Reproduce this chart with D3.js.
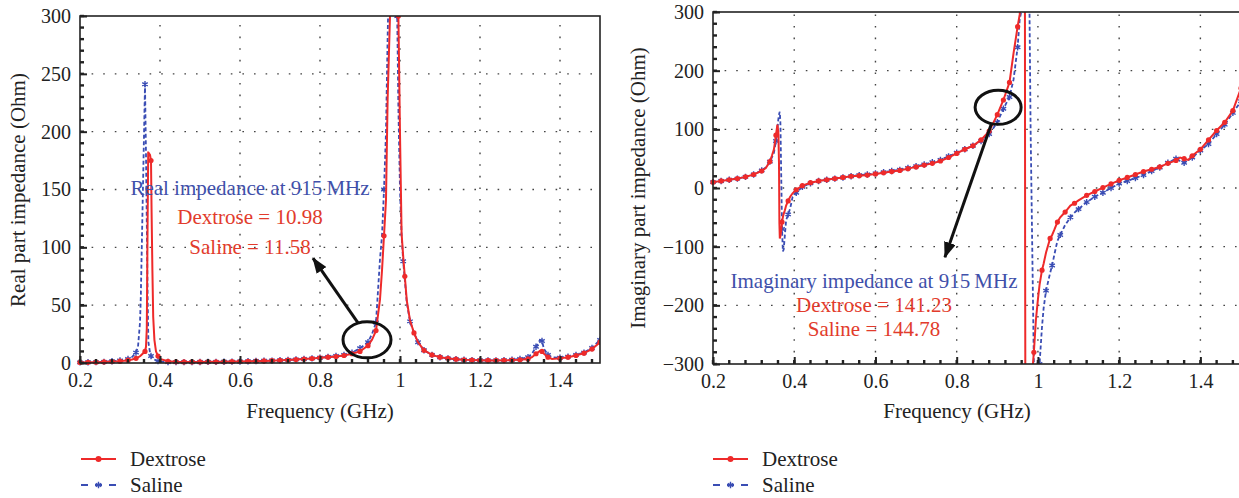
<!DOCTYPE html>
<html>
<head>
<meta charset="utf-8">
<script src="https://cdn.jsdelivr.net/npm/d3@7"></script>
<style>
body { margin: 0; background: #fff; }
svg { display: block; font-family: "Liberation Serif", "Times New Roman", serif; }
</style>
</head>
<body>
<svg id="chart" width="1239" height="498"></svg>
<script>
// values
var real_freq = [0.20, 0.22, 0.24, 0.26, 0.28, 0.30, 0.32, 0.33, 0.34, 0.345, 0.35, 0.352,
    0.3625, 0.365, 0.367, 0.369, 0.3705, 0.371, 0.375, 0.3775, 0.379, 0.381, 0.383, 0.386, 0.39, 0.395, 0.40, 0.42,
    0.44, 0.46, 0.48, 0.50, 0.52, 0.54, 0.56, 0.58, 0.60, 0.62, 0.64, 0.66, 0.68, 0.70, 0.72, 0.74, 0.76, 0.78, 0.80, 0.82, 0.84, 0.86, 0.88, 0.90,
    0.92, 0.93, 0.94, 0.95, 0.955, 0.96, 0.965, 0.969, 0.975, 0.98, 0.985, 0.99, 0.993, 0.996,
    1.0, 1.004, 1.008, 1.012, 1.017, 1.025, 1.035, 1.045, 1.06, 1.08,
    1.10, 1.12, 1.14, 1.16, 1.18, 1.20, 1.22, 1.24, 1.26, 1.28, 1.30,
    1.32, 1.33, 1.34, 1.35, 1.355, 1.36, 1.37, 1.38,
    1.40, 1.42, 1.44, 1.46, 1.48, 1.50];
var real_dextrose = [0.5, 0.6, 0.7, 0.9, 1.2, 1.6, 2.4, 3.0, 4.0, 4.8, 5.8, 6.5,
    10, 14, 30, 120, 182, 182, 180, 175, 130, 80, 40, 20, 10, 6, 3.5, 1.5,
    1.0, 0.9, 0.9, 0.9, 1.0, 1.0, 1.1, 1.2, 1.3, 1.5, 1.6, 1.8, 2.0, 2.3, 2.6, 3.0, 3.4, 3.9, 4.5, 5.0, 5.6, 6.5, 8.0, 10.0,
    15, 20, 28, 55, 80, 110, 141, 227, 300, 380, 420, 400, 350, 300,
    198, 112, 92, 75, 54, 37, 26, 18, 11, 7,
    5, 4, 3.3, 2.8, 2.5, 2.3, 2.2, 2.2, 2.3, 2.5, 2.8,
    3.5, 5, 8, 10.5, 10, 8, 5, 3.5,
    4, 5, 6.5, 8.5, 12, 18];
var real_saline = [0.5, 0.6, 0.8, 1.0, 1.5, 2.2, 3.5, 5.2, 9, 14, 35, 57,
    241, 180, 120, 60, 28, 18, 9, 6, 5, 4, 3.5, 3, 2.2, 1.6, 1.2, 0.9,
    0.8, 0.8, 0.8, 0.9, 1.0, 1.0, 1.1, 1.2, 1.3, 1.5, 1.7, 1.9, 2.1, 2.4, 2.7, 3.1, 3.5, 4.0, 4.6, 5.3, 6.0, 7.0, 9.0, 12.7,
    18, 25, 35, 90, 110, 150, 200, 280, 380, 450, 450, 330, 300, 220,
    150, 110, 88, 72, 52, 36, 26, 18, 11, 7,
    5, 4, 3.3, 2.8, 2.5, 2.4, 2.3, 2.3, 2.5, 2.8, 3.5,
    5, 8, 14, 20, 19, 12, 7, 5,
    4.5, 5.5, 7, 9, 13, 20];

var imag_freq = [0.20, 0.22, 0.24, 0.26, 0.28, 0.30, 0.32, 0.33, 0.34, 0.345, 0.35,
    0.355, 0.3585, 0.361, 0.3625, 0.3635, 0.3645, 0.366, 0.368, 0.370, 0.372, 0.374, 0.377, 0.38, 0.385, 0.39, 0.396, 0.405, 0.42,
    0.44, 0.46, 0.48, 0.50, 0.52, 0.54, 0.56, 0.58, 0.60, 0.62, 0.64, 0.66, 0.68, 0.70, 0.72, 0.74, 0.76, 0.78, 0.80, 0.82, 0.84, 0.86, 0.88, 0.90,
    0.915, 0.93, 0.94, 0.95, 0.955, 0.96, 0.965, 0.968, 0.9685, 0.969, 0.975, 0.979, 0.982, 0.986, 0.99,
    0.995, 1.0, 1.004, 1.01, 1.014, 1.02, 1.03, 1.035, 1.04, 1.048, 1.055, 1.067, 1.08, 1.09, 1.10,
    1.12, 1.14, 1.16, 1.18, 1.20, 1.22, 1.24, 1.26, 1.28, 1.30, 1.32, 1.34,
    1.35, 1.36, 1.37, 1.38,
    1.40, 1.42, 1.44, 1.46, 1.48, 1.50];
var imag_dextrose = [10, 12, 14, 16, 19, 23, 29, 34, 45, 55, 66,
    90, 108, 95, 40, -60, -86, -82, -70, -58, -50, -44, -38, -30, -22, -15, -9, -3, 4,
    9, 12, 14, 16, 18, 20, 21, 22, 24, 26, 28, 30, 33, 36, 39, 42, 46, 52, 59, 66, 72, 82, 97, 125,
    150, 180, 230, 275, 295, 330, 345, 320, -110, -330, -360, -345, -330, -315, -280,
    -225, -190, -165, -140, -129, -110, -86, -80, -72, -58, -50, -41, -30, -26, -21,
    -12.5, -6, 0.7, 7, 13, 18, 23, 28, 32, 36, 42, 47,
    52, 50, 48, 55,
    66, 82, 98, 112, 132, 170];
var imag_saline = [10, 12, 14, 16, 19, 23, 30, 35, 45, 52, 60,
    80, 100, 118, 125, 128, 130, 110, 20, -70, -108, -105, -80, -55, -45, -35, -15, -8, 2,
    8, 12, 14, 16, 18, 20, 22, 23, 25, 27, 29, 31, 34, 37, 40, 44, 48, 54, 60, 66, 72, 80, 92, 112,
    135, 155, 185, 240, 286, 305, 330, 345, 350, 350, 360, 320, 100, -100, -300,
    -360, -340, -300, -237, -205, -175, -145, -132, -115, -90, -80, -63, -50, -42, -36,
    -24, -15, -8, 0, 7.5, 12, 17, 22, 29, 35, 43, 50,
    46, 43, 47, 52,
    64, 75, 92, 108, 128, 148];

var freq_ticks = [0.2, 0.4, 0.6, 0.8, 1, 1.2, 1.4];
var real_ticks = [0, 50, 100, 150, 200, 250, 300];
var imag_ticks = [-300, -200, -100, 0, 100, 200, 300];
var series_names = ["Dextrose", "Saline"];
var real_notes = ["Real impedance at 915\u2009MHz", "Dextrose = 10.98", "Saline = 11.58"];
var imag_notes = ["Imaginary impedance at 915\u2009MHz", "Dextrose = 141.23", "Saline = 144.78"];

var red = "#ee2a2a";
var blue = "#3a4db4";
var note_blue = "#3f50aa";
var note_red = "#e23b2c";
var ink = "#222";

var svg = d3.select("#chart");

svg.append("defs").append("marker").
    attr("id", "arrowhead").
    attr("markerUnits", "userSpaceOnUse").
    attr("viewBox", "0 0 16 12").
    attr("refX", 15).
    attr("refY", 6).
    attr("markerWidth", 16).
    attr("markerHeight", 12).
    attr("orient", "auto").
    append("path").
    attr("d", "M 0 0 L 16 6 L 0 12 z").
    attr("fill", "#111");

var panels = [
    {
        id: "real", left: 80, right: 600, top: 16, bottom: 363, clip_extra: 4,
        y_domain: [0, 300], y_ticks: real_ticks, y_minor: 10,
        freq: real_freq, dextrose: real_dextrose, saline: real_saline,
        y_label: "Real part impedance (Ohm)", y_label_x: 25, y_label_y: 190,
        x_label_x: 320,
        notes: real_notes, note_x: 250, note_y: [195, 224, 254],
        ellipse: [0.9175, 20, 24, 18], arrow: [0.895, 34.6, 0.7825, 90.7],
        legend_x: 81
    },
    {
        id: "imag", left: 713, right: 1241, top: 12, bottom: 364, clip_extra: 0,
        y_domain: [-300, 300], y_ticks: imag_ticks, y_minor: 20,
        freq: imag_freq, dextrose: imag_dextrose, saline: imag_saline,
        y_label: "Imaginary part impedance (Ohm)", y_label_x: 645, y_label_y: 188,
        x_label_x: 957,
        notes: imag_notes, note_x: 874, note_y: [288, 312, 336],
        ellipse: [0.902, 137.5, 23, 17], arrow: [0.885, 108.6, 0.771, -118],
        legend_x: 713
    }
];

function format_tick(d)
{
    return d < 0 ? "\u2212" + (-d) : String(d);
}

// markers on a subset of the points: not too close in x, none on near-vertical jumps
function marker_points(freq, values, x, y, domain)
{
    var points = [];
    var last_x = -1e9;
    for (var i = 0; i < freq.length; i++)
    {
        var v = values[i];
        if (v < domain[0] || v > domain[1])
        {
            continue;
        }
        if (i > 0 && Math.abs(y(values[i - 1]) - y(v)) > 60 && Math.abs(x(freq[i - 1]) - x(freq[i])) < 3)
        {
            continue;
        }
        var px = x(freq[i]);
        if (px - last_x < 6)
        {
            continue;
        }
        points.push([px, y(v)]);
        last_x = px;
    }
    return points;
}

function draw_panel(p)
{
    var x = d3.scaleLinear().domain([0.2, 1.5]).range([p.left, p.right]);
    var y = d3.scaleLinear().domain(p.y_domain).range([p.bottom, p.top]);
    var g = svg.append("g").attr("id", p.id);

    g.append("clipPath").attr("id", "clip-" + p.id).
        append("rect").
        attr("x", p.left - 4).
        attr("y", p.top).
        attr("width", p.right - p.left + 4).
        attr("height", p.bottom - p.top + p.clip_extra);

    // dotted grid
    var grid = g.append("g").attr("stroke", "#444").attr("stroke-width", 1.4).attr("stroke-dasharray", "1.6,10");
    grid.selectAll(".vgrid").data(freq_ticks.slice(1)).enter().append("line").
        attr("x1", function(d) { return x(d); }).attr("x2", function(d) { return x(d); }).
        attr("y1", p.bottom).attr("y2", p.top);
    grid.selectAll(".hgrid").data(p.y_ticks.slice(1, -1)).enter().append("line").
        attr("x1", p.left).attr("x2", p.right).
        attr("y1", function(d) { return y(d); }).attr("y2", function(d) { return y(d); });

    var line = d3.line().
        x(function(d) { return x(d[0]); }).
        y(function(d) { return y(d[1]); });

    var plot = g.append("g").attr("clip-path", "url(#clip-" + p.id + ")");

    var saline_pts = p.freq.map(function(f, i) { return [f, p.saline[i]]; });
    var dextrose_pts = p.freq.map(function(f, i) { return [f, p.dextrose[i]]; });

    plot.append("path").
        attr("d", line(saline_pts)).
        attr("fill", "none").
        attr("stroke", blue).
        attr("stroke-width", 1.8).
        attr("stroke-dasharray", "4,2.5");
    var asterisk = d3.symbol().type(d3.symbolAsterisk).size(28);
    plot.selectAll(".saline-mark").data(marker_points(p.freq, p.saline, x, y, p.y_domain)).enter().append("path").
        attr("transform", function(d) { return "translate(" + d[0] + "," + d[1] + ")"; }).
        attr("d", asterisk).
        attr("fill", "none").
        attr("stroke", blue).
        attr("stroke-width", 1.4);

    plot.append("path").
        attr("d", line(dextrose_pts)).
        attr("fill", "none").
        attr("stroke", red).
        attr("stroke-width", 2);
    plot.selectAll(".dextrose-mark").data(marker_points(p.freq, p.dextrose, x, y, p.y_domain)).enter().append("circle").
        attr("cx", function(d) { return d[0]; }).
        attr("cy", function(d) { return d[1]; }).
        attr("r", 2.6).
        attr("fill", red);

    // frame
    g.append("rect").
        attr("x", p.left).attr("y", p.top).
        attr("width", p.right - p.left).attr("height", p.bottom - p.top).
        attr("fill", "none").attr("stroke", ink).attr("stroke-width", 1.6);

    // minor ticks
    var x_minor = d3.range(0, 33).map(function(k) { return 0.2 + 0.04 * k; });
    g.selectAll(".xminor").data(x_minor).enter().append("line").
        attr("x1", function(d) { return x(d); }).attr("x2", function(d) { return x(d); }).
        attr("y1", p.bottom).attr("y2", p.bottom - 4).
        attr("stroke", ink).attr("stroke-width", 2.4);
    var y_minor = d3.range(p.y_domain[0], p.y_domain[1] + 0.1, p.y_minor);
    g.selectAll(".yminor").data(y_minor).enter().append("line").
        attr("x1", p.left).attr("x2", p.left + 4).
        attr("y1", function(d) { return y(d); }).attr("y2", function(d) { return y(d); }).
        attr("stroke", ink).attr("stroke-width", 2.4);

    var x_axis = g.append("g").
        attr("transform", "translate(0," + p.bottom + ")").
        call(d3.axisBottom(x).tickValues(freq_ticks).tickFormat(format_tick).tickSizeInner(-7).tickSizeOuter(0).tickPadding(10));
    var y_axis = g.append("g").
        attr("transform", "translate(" + p.left + ",0)").
        call(d3.axisLeft(y).tickValues(p.y_ticks).tickFormat(format_tick).tickSizeInner(-7).tickSizeOuter(0).tickPadding(9));
    [x_axis, y_axis].forEach(function(a)
    {
        a.select(".domain").remove();
        a.selectAll("line").attr("stroke", ink).attr("stroke-width", 2);
        a.selectAll("text").attr("fill", "#222").style("font-size", "20px").style("font-family", "Liberation Serif, serif");
    });

    g.append("text").
        attr("x", p.x_label_x).attr("y", 418).
        attr("text-anchor", "middle").
        style("font-size", "21px").attr("fill", "#222").
        text("Frequency (GHz)");
    g.append("text").
        attr("transform", "translate(" + p.y_label_x + "," + p.y_label_y + ") rotate(-90)").
        attr("text-anchor", "middle").
        style("font-size", "21px").attr("fill", "#222").
        text(p.y_label);

    // annotation
    g.selectAll(".note").data(p.notes).enter().append("text").
        attr("x", p.note_x).
        attr("y", function(d, i) { return p.note_y[i]; }).
        attr("text-anchor", "middle").
        style("font-size", "21px").
        attr("fill", function(d, i) { return i == 0 ? note_blue : note_red; }).
        text(function(d) { return d; });
    g.append("ellipse").
        attr("cx", x(p.ellipse[0])).attr("cy", y(p.ellipse[1])).
        attr("rx", p.ellipse[2]).attr("ry", p.ellipse[3]).
        attr("fill", "none").attr("stroke", "#111").attr("stroke-width", 3);
    g.append("line").
        attr("x1", x(p.arrow[0])).attr("y1", y(p.arrow[1])).
        attr("x2", x(p.arrow[2])).attr("y2", y(p.arrow[3])).
        attr("stroke", "#111").attr("stroke-width", 3).
        attr("marker-end", "url(#arrowhead)");

    // legend
    var legend = g.append("g").attr("transform", "translate(" + p.legend_x + ",0)");
    legend.append("line").attr("x1", 0).attr("x2", 35).attr("y1", 459).attr("y2", 459).
        attr("stroke", red).attr("stroke-width", 2.2);
    legend.append("circle").attr("cx", 17.5).attr("cy", 459).attr("r", 3).attr("fill", red);
    legend.append("line").attr("x1", 0).attr("x2", 35).attr("y1", 485).attr("y2", 485).
        attr("stroke", blue).attr("stroke-width", 1.8).attr("stroke-dasharray", "7,7");
    legend.append("path").attr("transform", "translate(17.5,485)").attr("d", asterisk).
        attr("fill", "none").attr("stroke", blue).attr("stroke-width", 1.4);
    legend.selectAll(".legend-text").data(series_names).enter().append("text").
        attr("x", 49).
        attr("y", function(d, i) { return 466 + i * 26; }).
        style("font-size", "21px").attr("fill", "#222").
        text(function(d) { return d; });
}

panels.forEach(draw_panel);
</script>
</body>
</html>
